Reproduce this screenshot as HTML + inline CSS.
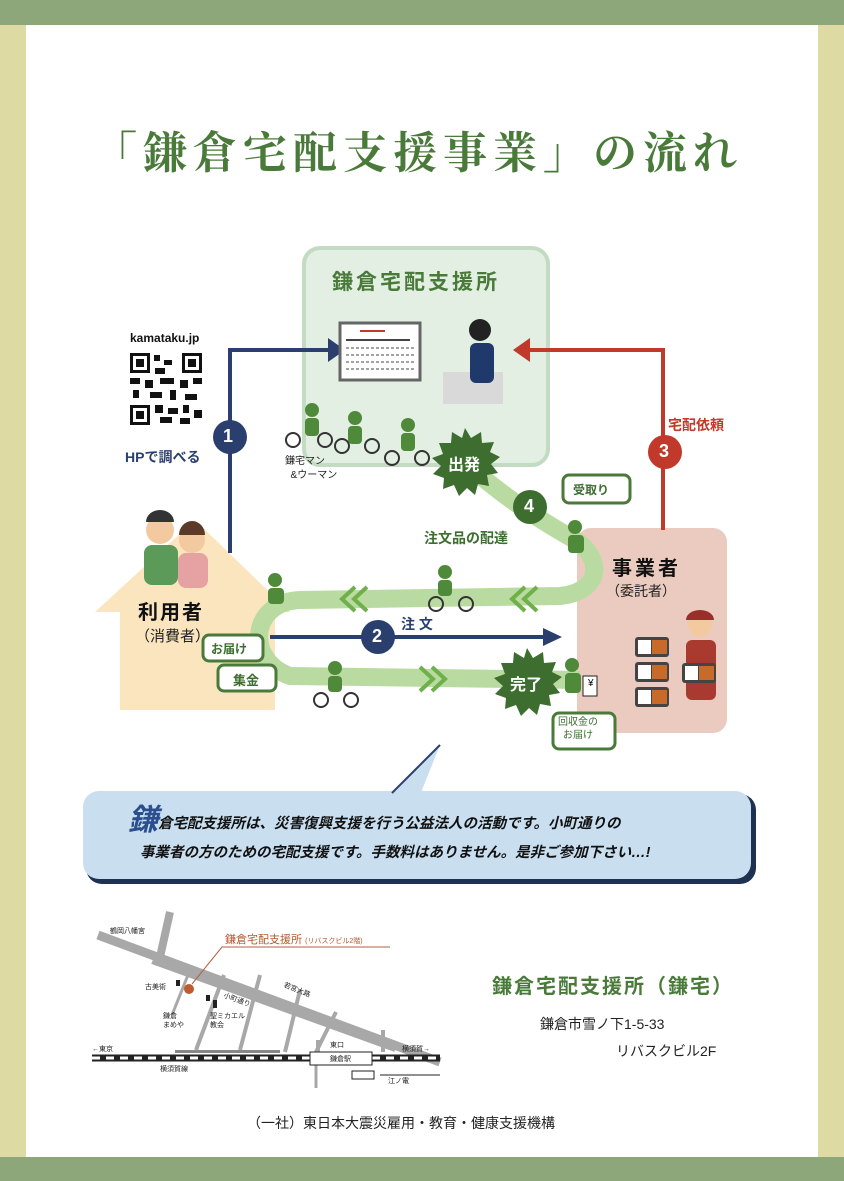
<!DOCTYPE html>
<html><head><meta charset="utf-8"><style>
body{margin:0;width:844px;height:1181px;position:relative;overflow:hidden;background:#fff;font-family:"Liberation Sans","Noto Sans CJK JP",sans-serif}
.a{position:absolute;white-space:nowrap}
</style></head><body>
<svg class="a" style="left:0;top:0" width="844" height="1181" viewBox="0 0 844 1181">
<!-- frame -->
<rect x="0" y="0" width="26" height="1181" fill="#dedaa3"/>
<rect x="818" y="0" width="26" height="1181" fill="#dedaa3"/>
<rect x="0" y="0" width="844" height="25" fill="#8da77b"/>
<rect x="0" y="1157" width="844" height="24" fill="#8da77b"/>
<!-- center box -->
<rect x="304" y="248" width="244" height="217" rx="16" fill="#e2efe2" stroke="#c3dbc3" stroke-width="4"/>
<!-- pink box -->
<rect x="577" y="528" width="150" height="205" rx="14" fill="#ebcbc0"/>
<!-- house -->
<path d="M195,520 L290,612 L275,612 L275,710 L120,710 L120,612 L95,612 Z" fill="#fbe5bf"/>
<!-- blue arrow 1 -->
<path d="M230,553 L230,350 L335,350" fill="none" stroke="#2b3f6e" stroke-width="4"/>
<path d="M328,338 L345,350 L328,362z" fill="#2b3f6e"/>
<!-- red arrow -->
<path d="M663,530 L663,350 L525,350" fill="none" stroke="#c0392b" stroke-width="4"/>
<path d="M530,338 L513,350 L530,362z" fill="#c0392b"/>
<!-- green path -->
<path d="M465,462 C500,495 540,520 575,540 C605,560 600,592 560,596 L300,600 C250,602 245,660 290,676 L580,680" fill="none" stroke="#b9dba1" stroke-width="18" stroke-linejoin="round"/>
<g fill="none" stroke="#6fb04a" stroke-width="4">
<path d="M355,587 L342,599 L355,611 M367,587 L354,599 L367,611"/>
<path d="M525,587 L512,599 L525,611 M537,587 L524,599 L537,611"/>
<path d="M420,667 L433,679 L420,691 M432,667 L445,679 L432,691"/>
</g>
<!-- order arrow -->
<line x1="270" y1="637" x2="545" y2="637" stroke="#2b3f6e" stroke-width="4"/>
<path d="M543,628 L562,637 L543,646z" fill="#2b3f6e"/>
<!-- circles -->
<circle cx="230" cy="437" r="17" fill="#2b3f6e"/>
<circle cx="665" cy="452" r="17" fill="#c0392b"/>
<circle cx="530" cy="507" r="17" fill="#3d6e30"/>
<circle cx="378" cy="637" r="17" fill="#2b3f6e"/>
<!-- bubble -->
<rect x="86" y="794" width="670" height="90" rx="16" fill="#1e3150"/>
<rect x="83" y="791" width="668" height="88" rx="16" fill="#c9dff0"/>
<path d="M392,795 L440,745 L420,795z" fill="#c9dff0"/>
<path d="M392,793 L440,745" stroke="#2b3f6e" stroke-width="2"/>
<!-- QR -->
<rect x="130" y="353" width="72" height="72" fill="#fff"/>
<g fill="#111">
<rect x="130" y="353" width="20" height="20"/><rect x="182" y="353" width="20" height="20"/><rect x="130" y="405" width="20" height="20"/>
</g>
<g fill="#fff"><rect x="133" y="356" width="14" height="14"/><rect x="185" y="356" width="14" height="14"/><rect x="133" y="408" width="14" height="14"/></g>
<g fill="#111"><rect x="136" y="359" width="8" height="8"/><rect x="188" y="359" width="8" height="8"/><rect x="136" y="411" width="8" height="8"/>
<rect x="154" y="355" width="6" height="6"/><rect x="164" y="360" width="8" height="5"/><rect x="155" y="368" width="10" height="6"/>
<rect x="130" y="378" width="10" height="6"/><rect x="145" y="380" width="8" height="8"/><rect x="160" y="378" width="14" height="6"/><rect x="180" y="380" width="8" height="8"/><rect x="193" y="378" width="9" height="6"/>
<rect x="133" y="390" width="6" height="8"/><rect x="150" y="392" width="12" height="6"/><rect x="170" y="390" width="6" height="10"/><rect x="185" y="394" width="12" height="6"/>
<rect x="155" y="405" width="8" height="8"/><rect x="168" y="408" width="10" height="6"/><rect x="183" y="405" width="6" height="8"/><rect x="194" y="410" width="8" height="8"/><rect x="160" y="417" width="12" height="6"/><rect x="180" y="418" width="10" height="6"/></g>
<!-- monitor -->
<rect x="340" y="323" width="80" height="57" fill="#fff" stroke="#666" stroke-width="3"/>
<g stroke="#444" stroke-width="1" stroke-dasharray="3,2"><line x1="346" y1="348" x2="414" y2="348"/><line x1="346" y1="355" x2="414" y2="355"/><line x1="346" y1="362" x2="414" y2="362"/><line x1="346" y1="369" x2="414" y2="369"/></g>
<line x1="360" y1="331" x2="385" y2="331" stroke="#c0392b" stroke-width="2"/>
<line x1="346" y1="340" x2="410" y2="340" stroke="#444" stroke-width="2"/>
<rect x="443" y="372" width="60" height="32" fill="#d9d9d9"/>
<circle cx="480" cy="330" r="11" fill="#222"/>
<rect x="470" y="343" width="24" height="40" rx="6" fill="#1f3a6a"/>
<!-- bikers (simplified) -->
<g fill="#4f8a3a">
<circle cx="312" cy="410" r="7"/><rect x="305" y="418" width="14" height="18" rx="4"/>
<circle cx="355" cy="418" r="7"/><rect x="348" y="426" width="14" height="18" rx="4"/>
<circle cx="408" cy="425" r="7"/><rect x="401" y="433" width="14" height="18" rx="4"/>
<circle cx="445" cy="572" r="7"/><rect x="438" y="580" width="14" height="16" rx="4"/>
<circle cx="335" cy="668" r="7"/><rect x="328" y="676" width="14" height="16" rx="4"/>
<circle cx="275" cy="580" r="7"/><rect x="268" y="588" width="16" height="16" rx="4"/>
<circle cx="575" cy="527" r="7"/><rect x="568" y="535" width="16" height="18" rx="4"/>
<circle cx="572" cy="665" r="7"/><rect x="565" y="673" width="16" height="20" rx="4"/>
</g>
<g fill="none" stroke="#333" stroke-width="2">
<circle cx="293" cy="440" r="7"/><circle cx="325" cy="440" r="7"/>
<circle cx="342" cy="446" r="7"/><circle cx="372" cy="446" r="7"/>
<circle cx="392" cy="458" r="7"/><circle cx="422" cy="458" r="7"/>
<circle cx="436" cy="604" r="7"/><circle cx="466" cy="604" r="7"/>
<circle cx="321" cy="700" r="7"/><circle cx="351" cy="700" r="7"/>
</g>
<!-- users -->
<circle cx="160" cy="530" r="14" fill="#f3c9a0"/><path d="M146,522 a14,12 0 0 1 28,0z" fill="#333"/>
<rect x="144" y="545" width="34" height="40" rx="8" fill="#5c9a5a"/>
<circle cx="192" cy="540" r="13" fill="#f3c9a0"/><path d="M179,535 a13,14 0 0 1 26,0z" fill="#5b3a2a"/>
<rect x="178" y="553" width="30" height="35" rx="8" fill="#e6a2a2"/>
<!-- shop woman and bento -->
<circle cx="700" cy="625" r="12" fill="#f3c9a0"/><path d="M686,620 a14,10 0 0 1 28,0z" fill="#9a2f2a"/>
<rect x="686" y="640" width="30" height="60" rx="6" fill="#a83a30"/>
<g fill="#444"><rect x="635" y="637" width="34" height="20" rx="3"/><rect x="635" y="662" width="34" height="20" rx="3"/><rect x="635" y="687" width="34" height="20" rx="3"/><rect x="682" y="663" width="34" height="20" rx="3"/></g>
<g fill="#c76a2a"><rect x="652" y="640" width="15" height="14"/><rect x="652" y="665" width="15" height="14"/><rect x="652" y="690" width="15" height="14"/><rect x="699" y="666" width="15" height="14"/></g>
<g fill="#fff"><rect x="638" y="640" width="13" height="14"/><rect x="638" y="665" width="13" height="14"/><rect x="638" y="690" width="13" height="14"/><rect x="685" y="666" width="13" height="14"/></g>
<rect x="583" y="676" width="14" height="20" fill="#fff" stroke="#222"/>
<!-- speech tags -->
<g fill="#fff" stroke="#4a7a3a" stroke-width="3">
<rect x="563" y="475" width="67" height="28" rx="6"/>
<rect x="203" y="635" width="60" height="26" rx="6"/>
<rect x="218" y="665" width="58" height="26" rx="6"/>
<rect x="553" y="713" width="62" height="36" rx="6"/>
</g>
<!-- map -->
<g stroke="#a8a8a8" fill="none" stroke-linecap="butt">
<path d="M98,935 L440,1062" stroke-width="9"/>
<path d="M170,912 L158,966" stroke-width="8"/>
<path d="M152,962 L395,1050" stroke-width="4"/>
<path d="M190,970 L172,1015" stroke-width="3"/>
<path d="M224,975 L196,1050" stroke-width="4"/>
<path d="M260,975 L240,1050" stroke-width="4"/>
<path d="M300,990 L285,1052" stroke-width="4"/>
<path d="M336,1012 L316,1052" stroke-width="4"/>
<path d="M318,1040 L318,1052" stroke-width="4"/>
<path d="M383,1030 L383,1052" stroke-width="4"/>
<path d="M316,1052 L316,1088" stroke-width="3"/>
</g>
<rect x="175" y="1050" width="105" height="3" fill="#888"/>
<line x1="92" y1="1058" x2="440" y2="1058" stroke="#222" stroke-width="7"/>
<line x1="92" y1="1058" x2="440" y2="1058" stroke="#fff" stroke-width="3" stroke-dasharray="8,6"/>
<rect x="310" y="1052" width="62" height="13" fill="#fff" stroke="#222"/>
<rect x="352" y="1071" width="22" height="8" fill="#fff" stroke="#222"/>
<line x1="380" y1="1075" x2="440" y2="1075" stroke="#222"/>
<circle cx="189" cy="989" r="5" fill="#c05a30"/>
<path d="M192,984 L222,947 L390,947" fill="none" stroke="#b06040" stroke-width="1"/>
<rect x="176" y="980" width="4" height="6" fill="#222"/><rect x="206" y="995" width="4" height="6" fill="#222"/><rect x="213" y="1000" width="4" height="8" fill="#222"/>
</svg>
<svg class="a" style="left:0;top:0" width="844" height="1181">
<g fill="#3d6e30">
<polygon points="465,428 471,438 481,432 482,443 494,442 490,452 500,457 491,464 498,473 487,475 489,486 478,484 475,495 467,488 459,496 454,485 443,489 444,478 433,474 441,466 432,458 443,454 439,443 451,443 452,432 462,438"/>
<polygon points="527,648 533,658 543,652 544,663 556,662 552,672 562,677 553,684 560,693 549,695 551,706 540,704 537,715 529,708 521,716 516,705 505,709 506,698 495,694 503,686 494,678 505,674 501,663 513,663 514,652 524,658"/>
</g>
</svg>

<div class="a" style="left:93px;top:117px;font-size:44px;letter-spacing:6px;color:#4a7a3a;font-family:'Liberation Serif','Noto Serif CJK SC',serif;font-weight:bold">「鎌倉宅配支援事業」の流れ</div>
<div class="a" style="left:332px;top:266px;font-size:21px;letter-spacing:3px;color:#4a7a3a;font-weight:bold">鎌倉宅配支援所</div>
<div class="a" style="left:130px;top:331px;font-size:12px;font-weight:bold;color:#111">kamataku.jp</div>
<div class="a" style="left:125px;top:447px;font-size:14px;font-weight:bold;color:#2b3f6e">HPで調べる</div>
<div class="a" style="left:285px;top:455px;font-size:10px;line-height:14px;color:#222">鎌宅マン<br>&nbsp;&nbsp;&amp;ウーマン</div>
<div class="a" style="left:223px;top:426px;font-size:18px;font-weight:bold;color:#fff">1</div>
<div class="a" style="left:659px;top:441px;font-size:18px;font-weight:bold;color:#fff">3</div>
<div class="a" style="left:524px;top:496px;font-size:18px;font-weight:bold;color:#fff">4</div>
<div class="a" style="left:372px;top:626px;font-size:18px;font-weight:bold;color:#fff">2</div>
<div class="a" style="left:668px;top:415px;font-size:14px;font-weight:bold;color:#c0392b">宅配依頼</div>
<div class="a" style="left:448px;top:451px;font-size:16px;font-weight:bold;color:#fff">出発</div>
<div class="a" style="left:510px;top:671px;font-size:16px;font-weight:bold;color:#fff">完了</div>
<div class="a" style="left:424px;top:528px;font-size:14px;font-weight:bold;color:#3d6e30">注文品の配達</div>
<div class="a" style="left:401px;top:614px;font-size:14px;font-weight:bold;color:#2b3f6e">注 文</div>
<div class="a" style="left:573px;top:481px;font-size:12px;font-weight:bold;color:#3d6e30">受取り</div>
<div class="a" style="left:211px;top:640px;font-size:12px;font-weight:bold;color:#3d6e30">お届け</div>
<div class="a" style="left:233px;top:670px;font-size:13px;font-weight:bold;color:#3d6e30">集金</div>
<div class="a" style="left:558px;top:716px;font-size:10px;line-height:13px;color:#3d6e30;text-align:center">回収金の<br>お届け</div>
<div class="a" style="left:588px;top:678px;font-size:10px">¥</div>
<div class="a" style="left:138px;top:596px;font-size:20px;font-weight:bold;letter-spacing:2px;color:#111">利用者</div>
<div class="a" style="left:135px;top:625px;font-size:15px;color:#222">（消費者）</div>
<div class="a" style="left:612px;top:552px;font-size:20px;font-weight:bold;letter-spacing:3px;color:#111">事業者</div>
<div class="a" style="left:606px;top:581px;font-size:14px;color:#222">（委託者）</div>

<div class="a" style="left:128px;top:806px;font-size:14.5px;line-height:30px;font-weight:bold;font-style:italic;color:#111"><span style="font-size:30px;color:#2b4f8e;vertical-align:-2px">鎌</span>倉宅配支援所は、災害復興支援を行う公益法人の活動です。小町通りの</div>
<div class="a" style="left:140px;top:841px;font-size:14.5px;line-height:24px;font-weight:bold;font-style:italic;color:#111">事業者の方のための宅配支援です。手数料はありません。是非ご参加下さい…!</div>

<div class="a" style="left:225px;top:931px;font-size:11px;color:#b05a30">鎌倉宅配支援所 <span style="font-size:7px">(リバスクビル2階)</span></div>
<div class="a" style="left:110px;top:926px;font-size:7px;color:#222">鶴岡八幡宮</div>
<div class="a" style="left:145px;top:982px;font-size:7px;color:#222">古美術</div>
<div class="a" style="left:163px;top:1012px;font-size:7px;line-height:9px;color:#222">鎌倉<br>まめや</div>
<div class="a" style="left:210px;top:1012px;font-size:7px;line-height:9px;color:#222">聖ミカエル<br>教会</div>
<div class="a" style="left:223px;top:995px;font-size:7px;color:#222;transform:rotate(20deg)">小町通り</div>
<div class="a" style="left:283px;top:985px;font-size:7px;color:#222;transform:rotate(22deg)">若宮大路</div>
<div class="a" style="left:92px;top:1044px;font-size:7px;color:#222">←東京</div>
<div class="a" style="left:402px;top:1044px;font-size:7px;color:#222">横須賀→</div>
<div class="a" style="left:330px;top:1040px;font-size:7px;color:#222">東口</div>
<div class="a" style="left:330px;top:1054px;font-size:7px;color:#222">鎌倉駅</div>
<div class="a" style="left:160px;top:1064px;font-size:7px;color:#222">横須賀線</div>
<div class="a" style="left:388px;top:1076px;font-size:7px;color:#222">江ノ電</div>

<div class="a" style="left:492px;top:970px;font-size:20px;letter-spacing:2px;color:#4a7a3a;font-weight:bold">鎌倉宅配支援所（鎌宅）</div>
<div class="a" style="left:540px;top:1014px;font-size:14px;color:#222">鎌倉市雪ノ下1-5-33</div>
<div class="a" style="left:616px;top:1041px;font-size:14px;color:#222">リバスクビル2F</div>
<div class="a" style="left:247px;top:1113px;font-size:14px;color:#222">（一社）東日本大震災雇用・教育・健康支援機構</div>
</body></html>
